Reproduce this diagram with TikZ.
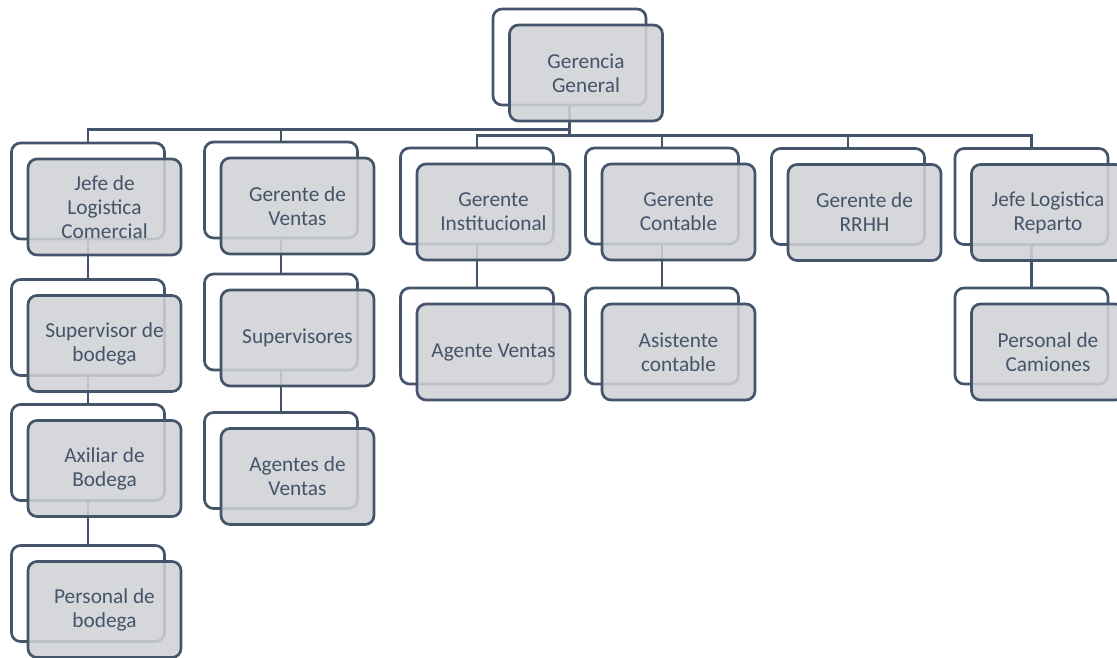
\documentclass[tikz,border=0pt]{standalone}
\usepackage{fontspec}
\setmainfont{Carlito}
\definecolor{navy}{HTML}{44546A}
\definecolor{boxgray}{HTML}{D0D2D6}
\tikzset{
  backbox/.style={draw=navy, line width=2.7pt, rounded corners=9pt, fill=white,
    minimum width=153pt, minimum height=96pt, inner sep=0pt},
  frontbox/.style={draw=navy, line width=2.7pt, rounded corners=9pt, fill=boxgray,
    fill opacity=0.88, text opacity=1, draw opacity=1,
    minimum width=153pt, minimum height=96pt, inner sep=0pt,
    text=navy, align=center, font=\fontsize{21.3}{24}\selectfont},
  link/.style={draw=navy, line width=2.7pt}
}
\begin{document}
\begin{tikzpicture}[x=1pt,y=-1pt]
\useasboundingbox (0,0) rectangle (1117,658);
% back boxes
\node[backbox] (bgg) at (569.5,57) {};
\node[backbox] (bj)  at (88,191) {};
\node[backbox] (bsb) at (88,327.5) {};
\node[backbox] (bab) at (88,452.5) {};
\node[backbox] (bpb) at (88,593.5) {};
\node[backbox] (bgv) at (281,190) {};
\node[backbox] (bsu) at (281,322) {};
\node[backbox] (bav) at (281,460.5) {};
\node[backbox] (bgi) at (477,196) {};
\node[backbox] (bag) at (477,336) {};
\node[backbox] (bgc) at (662,196) {};
\node[backbox] (bac) at (662,336) {};
\node[backbox] (brh) at (848,196.5) {};
\node[backbox] (bjl) at (1031.5,196.5) {};
\node[backbox] (bpc) at (1031.5,336) {};
% bus coordinates
\coordinate (busL) at (569.5,129.5);
\coordinate (busR) at (569.5,135.5);
% connectors
\draw[link] (bgg.south) -- (busR);
\draw[link] (busL) -| (bj.north);
\draw[link] (busL) -| (bgv.north);
\draw[link] (busR) -| (bgi.north);
\draw[link] (busR) -| (bgc.north);
\draw[link] (busR) -| (brh.north);
\draw[link] (busR) -| (bjl.north);
\draw[link] (bj.south) -- (bsb.north);
\draw[link] (bsb.south) -- (bab.north);
\draw[link] (bab.south) -- (bpb.north);
\draw[link] (bgv.south) -- (bsu.north);
\draw[link] (bsu.south) -- (bav.north);
\draw[link] (bgi.south) -- (bag.north);
\draw[link] (bgc.south) -- (bac.north);
\draw[link] (bjl.south) -- (bpc.north);
% front boxes
\node[frontbox] (fgg) at ([shift={(16.5,16)}]bgg.center) {Gerencia\\General};
\node[frontbox] (fj)  at ([shift={(16.5,16)}]bj.center)  {Jefe de\\Logistica\\Comercial};
\node[frontbox] (fsb) at ([shift={(16.5,16)}]bsb.center) {Supervisor de\\bodega};
\node[frontbox] (fab) at ([shift={(16.5,16)}]bab.center) {Axiliar de\\Bodega};
\node[frontbox] (fpb) at ([shift={(16.5,16)}]bpb.center) {Personal de\\bodega};
\node[frontbox] (fgv) at ([shift={(16.5,16)}]bgv.center) {Gerente de\\Ventas};
\node[frontbox] (fsu) at ([shift={(16.5,16)}]bsu.center) {Supervisores};
\node[frontbox] (fav) at ([shift={(16.5,16)}]bav.center) {Agentes de\\Ventas};
\node[frontbox] (fgi) at ([shift={(16.5,16)}]bgi.center) {Gerente\\Institucional};
\node[frontbox] (fag) at ([shift={(16.5,16)}]bag.center) {Agente Ventas};
\node[frontbox] (fgc) at ([shift={(16.5,16)}]bgc.center) {Gerente\\Contable};
\node[frontbox] (fac) at ([shift={(16.5,16)}]bac.center) {Asistente\\contable};
\node[frontbox] (frh) at ([shift={(16.5,16)}]brh.center) {Gerente de\\RRHH};
\node[frontbox] (fjl) at ([shift={(16.5,16)}]bjl.center) {Jefe Logistica\\Reparto};
\node[frontbox] (fpc) at ([shift={(16.5,16)}]bpc.center) {Personal de\\Camiones};
\end{tikzpicture}
\end{document}
